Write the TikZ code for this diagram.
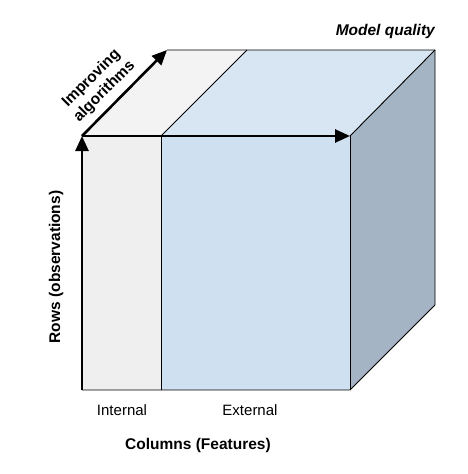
\documentclass[tikz,border=0pt]{standalone}
\usepackage{fontspec}
\setmainfont{Liberation Sans}
\usetikzlibrary{arrows.meta}
\definecolor{intfront}{HTML}{EFEFEF}
\definecolor{inttop}{HTML}{F3F3F3}
\definecolor{extfront}{HTML}{CFE0F1}
\definecolor{exttop}{HTML}{D8E5F3}
\definecolor{sideface}{HTML}{A5B4C4}
\begin{document}
\begin{tikzpicture}[x=1pt,y=-1pt,
  edge/.style={line width=0.9pt},
  axis/.style={line width=2.6pt,-{Triangle[length=15pt,width=13pt]}},
  lbl/.style={font=\fontsize{15}{17}\selectfont, inner sep=0pt},
  blbl/.style={font=\fontsize{15.5}{18.5}\selectfont\bfseries, inner sep=0pt}]
\useasboundingbox (0,0) rectangle (468,474);
\coordinate (A) at (82,136);
\coordinate (B) at (161,136);
\coordinate (C) at (350,136);
\coordinate (D) at (82,390);
\coordinate (E) at (161,390);
\coordinate (F) at (350,390);
\coordinate (A2) at (167,50);
\coordinate (B2) at (247,50);
\coordinate (C2) at (435,50);
\coordinate (F2) at (435,305);
\fill[intfront] (A) -- (B) -- (E) -- (D) -- cycle;
\fill[extfront] (B) -- (C) -- (F) -- (E) -- cycle;
\fill[inttop] (A) -- (A2) -- (B2) -- (B) -- cycle;
\fill[exttop] (B) -- (B2) -- (C2) -- (C) -- cycle;
\fill[sideface] (C) -- (C2) -- (F2) -- (F) -- cycle;
\draw[edge] (D) -- (F) -- (F2) -- (C2) -- (A2);
\draw[edge] (C) -- (F);
\draw[edge] (C) -- (C2);
\draw[edge] (B) -- (E);
\draw[edge] (B) -- (B2);
\draw[axis] (D) -- (A);
\draw[axis] (A) -- (C);
\draw[axis] (A) -- (A2);
\node[blbl, font=\fontsize{15.5}{19}\selectfont\bfseries\itshape, anchor=east] (mq) at (435,31) {Model quality};
\node[blbl, rotate=45, align=center] (ia) at (98,85) {Improving\\algorithms};
\node[blbl, rotate=90] (rows) at (56,267) {Rows (observations)};
\node[lbl] (int) at (122,410) {Internal};
\node[lbl] (ext) at (250,410) {External};
\node[blbl] (cols) at (198,445) {Columns (Features)};
\end{tikzpicture}
\end{document}
